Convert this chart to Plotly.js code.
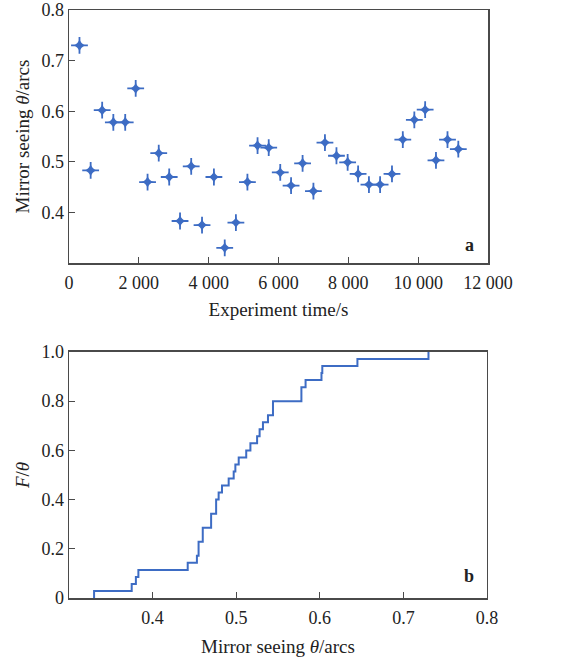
<!DOCTYPE html>
<html>
<head>
<meta charset="utf-8">
<script src="https://cdn.plot.ly/plotly-3.0.1.min.js"></script>
<style>html,body{margin:0;padding:0;background:#fff;}#chart{width:566px;height:659px;}</style>
</head>
<body>
<div id="chart"></div>
<script>
// Panel a: experiment time (s) and mirror seeing (arcs)
const timeS = [300, 620, 950, 1270, 1610, 1910, 2250, 2570, 2870, 3180, 3500, 3810, 4150, 4460, 4780, 5110, 5400, 5720, 6050, 6360, 6690, 7000, 7330, 7660, 7980, 8280, 8590, 8910, 9250, 9560, 9890, 10200, 10510, 10840, 11150];
const seeing = [0.730, 0.483, 0.602, 0.578, 0.578, 0.645, 0.460, 0.517, 0.470, 0.383, 0.491, 0.375, 0.470, 0.330, 0.380, 0.460, 0.532, 0.528, 0.479, 0.453, 0.497, 0.442, 0.538, 0.512, 0.499, 0.476, 0.455, 0.455, 0.476, 0.544, 0.583, 0.603, 0.503, 0.544, 0.525];

const xTickValsA = [0, 2000, 4000, 6000, 8000, 10000, 12000];
const xTickTextA = ["0", "2 000", "4 000", "6 000", "8 000", "10 000", "12 000"];
const yTickValsA = [0.4, 0.5, 0.6, 0.7, 0.8];
const yTickTextA = ["0.4", "0.5", "0.6", "0.7", "0.8"];
const xTickValsB = [0.4, 0.5, 0.6, 0.7, 0.8];
const xTickTextB = ["0.4", "0.5", "0.6", "0.7", "0.8"];
const yTickValsB = [0, 0.2, 0.4, 0.6, 0.8, 1.0];
const yTickTextB = ["0", "0.2", "0.4", "0.6", "0.8", "1.0"];

// Panel b: empirical CDF of the seeing values
const sorted = seeing.slice().sort((a, b) => a - b);
const n = sorted.length;
const cdfX = [sorted[0]].concat(sorted);
const cdfY = [0];
for (let i = 1; i <= n; i++) cdfY.push(i / n);

const blue = '#3d6cc4';
const frame = '#4a4a4a';
const fontFam = '"Liberation Serif", "DejaVu Serif", serif';
const tickSize = 18;
const titleSize = 19;

const traces = [
  {
    x: timeS, y: seeing, type: 'scatter', mode: 'markers',
    marker: {symbol: 'cross-thin-open', size: 12, color: blue, line: {width: 1.8, color: blue}},
    xaxis: 'x', yaxis: 'y', hoverinfo: 'x+y'
  },
  {
    x: timeS, y: seeing, type: 'scatter', mode: 'markers',
    marker: {symbol: 'star-diamond', size: 9, color: blue, line: {width: 0}},
    xaxis: 'x', yaxis: 'y', hoverinfo: 'skip'
  },
  {
    x: cdfX, y: cdfY, type: 'scatter', mode: 'lines',
    line: {shape: 'hv', color: blue, width: 2},
    xaxis: 'x2', yaxis: 'y2'
  }
];

const axisCommon = {
  showgrid: false, zeroline: false, showline: true, mirror: true,
  linecolor: frame, linewidth: 1.5,
  ticks: 'inside', ticklen: 6, tickwidth: 1.2, tickcolor: frame,
  tickfont: {family: fontFam, size: tickSize, color: '#222'},
  tickmode: 'array'
};
const titleFont = {family: fontFam, size: titleSize, color: '#222'};

const layout = {
  width: 566, height: 659,
  margin: {l: 69, r: 78, t: 10, b: 61},
  paper_bgcolor: '#fff', plot_bgcolor: '#fff',
  showlegend: false,
  font: {family: fontFam, color: '#222'},
  xaxis: Object.assign({}, axisCommon, {
    domain: [0, 1], anchor: 'y', range: [0, 12000],
    tickvals: xTickValsA, ticktext: xTickTextA, ticklabelstandoff: 3,
    title: {text: 'Experiment time/s', font: titleFont, standoff: 10}
  }),
  yaxis: Object.assign({}, axisCommon, {
    domain: [0.5697, 1], anchor: 'x', range: [0.3, 0.8],
    tickvals: yTickValsA, ticktext: yTickTextA,
    title: {text: 'Mirror seeing <i>θ</i>/arcs', font: titleFont, standoff: 6}
  }),
  xaxis2: Object.assign({}, axisCommon, {
    domain: [0, 0.9976], anchor: 'y2', range: [0.3, 0.8],
    tickvals: xTickValsB, ticktext: xTickTextB, ticklabelstandoff: 3,
    title: {text: 'Mirror seeing <i>θ</i>/arcs', font: titleFont, standoff: 12}
  }),
  yaxis2: Object.assign({}, axisCommon, {
    domain: [0, 0.4184], anchor: 'x2', range: [0, 1.0],
    tickvals: yTickValsB, ticktext: yTickTextB,
    title: {text: '<i>F</i>/<i>θ</i>', font: titleFont, standoff: 6}
  }),
  annotations: [
    {text: '<b>a</b>', xref: 'x domain', yref: 'y domain', x: 0.955, y: 0.07, xanchor: 'center', yanchor: 'middle', showarrow: false, font: {family: fontFam, size: 18, color: '#222'}},
    {text: '<b>b</b>', xref: 'x2 domain', yref: 'y2 domain', x: 0.958, y: 0.09, xanchor: 'center', yanchor: 'middle', showarrow: false, font: {family: fontFam, size: 18, color: '#222'}}
  ]
};

Plotly.newPlot('chart', traces, layout, {displayModeBar: false, staticPlot: true});
</script>
</body>
</html>
